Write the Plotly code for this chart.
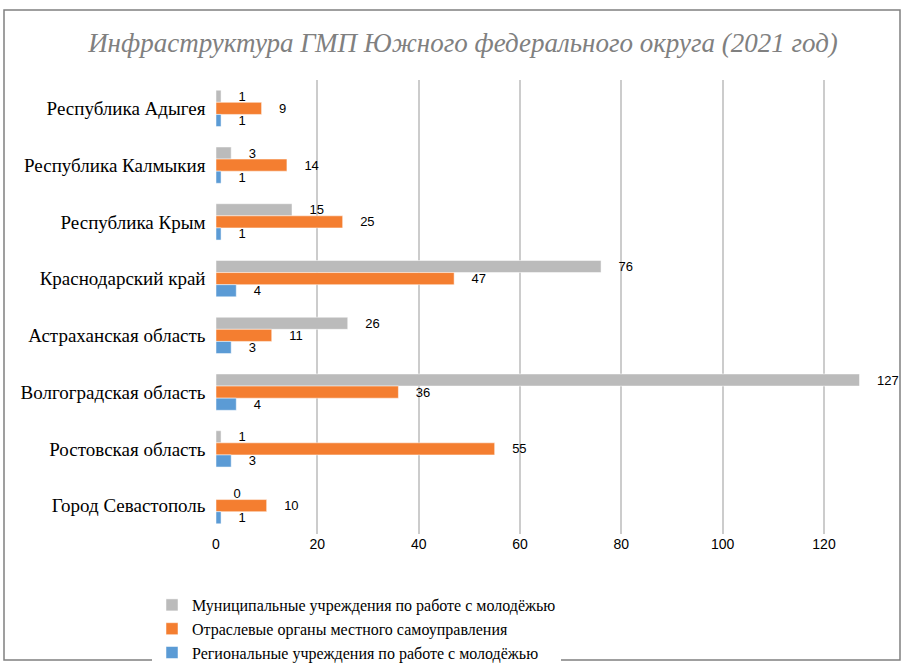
import plotly.graph_objects as go

categories = ["Республика Адыгея", "Республика Калмыкия", "Республика Крым",
              "Краснодарский край", "Астраханская область", "Волгоградская область",
              "Ростовская область", "Город Севастополь"]
municipal = [1, 3, 15, 76, 26, 127, 1, 0]
branch = [9, 14, 25, 47, 11, 36, 55, 10]
regional = [1, 1, 1, 4, 3, 4, 3, 1]
series_names = ["Муниципальные учреждения по работе с молодёжью",
                "Отраслевые органы местного самоуправления",
                "Региональные учреждения по работе с молодёжью"]
colors = ["#BBBBBB", "#F47E30", "#5B9BD5"]
x_ticks = [0, 20, 40, 60, 80, 100, 120]

SERIF = "Liberation Serif"
SANS = "Liberation Sans"

fig = go.Figure()
for name, vals, col in zip(series_names, [municipal, branch, regional], colors):
    fig.add_trace(go.Bar(
        y=categories, x=vals, orientation="h", name=name,
        marker=dict(color=col, line=dict(color="white", width=0.5)),
        text=vals, texttemplate="    %{x}", textposition="outside",
        constraintext="none",
        textfont=dict(family=SANS, size=13, color="#000000"),
        cliponaxis=False,
    ))

W, H = 904, 664
ml, mr, mt, mb = 216, 42, 80, 130
pw, ph = W - ml - mr, H - mt - mb

def px(x):
    return (x - ml) / pw

def py(y):
    return 1 - (y - mt) / ph

fig.update_layout(
    template="none",
    width=W, height=H,
    font=dict(family=SERIF, color="#000000"),
    margin=dict(l=ml, r=mr, t=mt, b=mb, autoexpand=False),
    paper_bgcolor="white", plot_bgcolor="white",
    barmode="group", bargap=0.36, bargroupgap=0,
    title=dict(text="Инфраструктура ГМП Южного федерального округа (2021 год)",
               x=463 / W, xanchor="center", xref="container", y=1 - 43 / H, yanchor="middle",
               yref="container",
               font=dict(family=SERIF, size=27, color="#808080", style="italic")),
    xaxis=dict(range=[0, 127.5], tickvals=x_ticks, showgrid=True, gridcolor="#CCCCCC",
               gridwidth=2, zeroline=False, showline=False, ticks="", automargin=False,
               tickfont=dict(family=SANS, size=14, color="#000000")),
    yaxis=dict(autorange="reversed", showgrid=False, showline=False, ticks="",
               ticksuffix="  ", automargin=False,
               tickfont=dict(family=SERIF, size=19, color="#000000")),
    legend=dict(x=px(152), y=py(588), xanchor="left", yanchor="top",
                font=dict(family=SERIF, size=16, color="#000000"),
                itemwidth=30, tracegroupgap=0, itemclick=False),
    showlegend=True,
    shapes=[dict(type="rect", xref="paper", yref="paper",
                 x0=px(4), x1=px(900), y0=py(660), y1=py(10),
                 line=dict(color="#808080", width=1.5), fillcolor="rgba(0,0,0,0)",
                 layer="below")],
)
fig.write_html("out.html", config={"displayModeBar": False},
               post_script="document.body.style.margin='0';")
